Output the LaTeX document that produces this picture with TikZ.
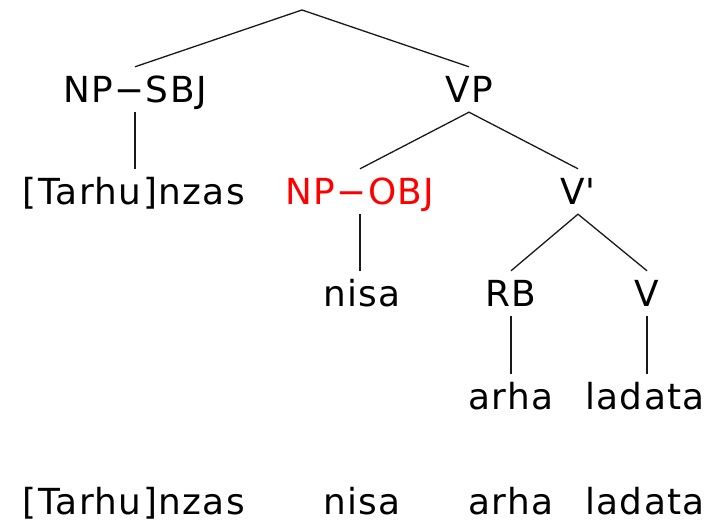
\documentclass[tikz,border=0pt]{standalone}
\usepackage{fontspec}
\setmainfont{DejaVu Sans}[LetterSpace=4]
\definecolor{vermelho}{RGB}{255,0,0}

\begin{document}
\begin{tikzpicture}[x=1bp, y=1bp,
    rotulo/.style={anchor=base, font=\fontsize{36}{40}\selectfont, text height=27bp, text depth=0bp, inner xsep=0pt, inner ysep=9bp},
    ramo/.style={line width=1.3bp, black!90}]

    \useasboundingbox (0,0) rectangle (708,523);

    % Raiz
    \coordinate (S) at (302,513);

    % Primeiro nível
    \node[rotulo] (NPSBJ) at (135,420) {NP−SBJ};
    \node[rotulo] (VP) at (469,420) {VP};

    % Segundo nível
    \node[rotulo] (Tarhu) at (134,318) {[Tarhu]nzas};
    \node[rotulo, text=vermelho] (NPOBJ) at (360,318) {NP−OBJ};
    \node[rotulo] (Vbar) at (578,318) {V\textquotesingle};

    % Terceiro nível
    \node[rotulo] (nisa) at (362,216) {nisa};
    \node[rotulo] (RB) at (511,216) {RB};
    \node[rotulo] (V) at (647,216) {V};

    % Folhas
    \node[rotulo] (arha) at (511,113) {arha};
    \node[rotulo] (ladata) at (645,113) {ladata};

    % Ramos
    \draw[ramo] (NPSBJ.north) -- (S) -- (VP.north);
    \draw[ramo] (NPSBJ.south) -- (NPSBJ.south |- Tarhu.north);
    \draw[ramo] (NPOBJ.north) -- (VP.south) -- (Vbar.north);
    \draw[ramo] (NPOBJ.south) -- (NPOBJ.south |- nisa.north);
    \draw[ramo] (RB.north) -- (Vbar.south) -- (V.north);
    \draw[ramo] (RB.south) -- (RB.south |- arha.north);
    \draw[ramo] (V.south) -- (V.south |- ladata.north);

    % Linha da frase
    \node[rotulo] (f1) at (134,8) {[Tarhu]nzas};
    \node[rotulo] (f2) at (362,8) {nisa};
    \node[rotulo] (f3) at (511,8) {arha};
    \node[rotulo] (f4) at (645,8) {ladata};

\end{tikzpicture}
\end{document}
